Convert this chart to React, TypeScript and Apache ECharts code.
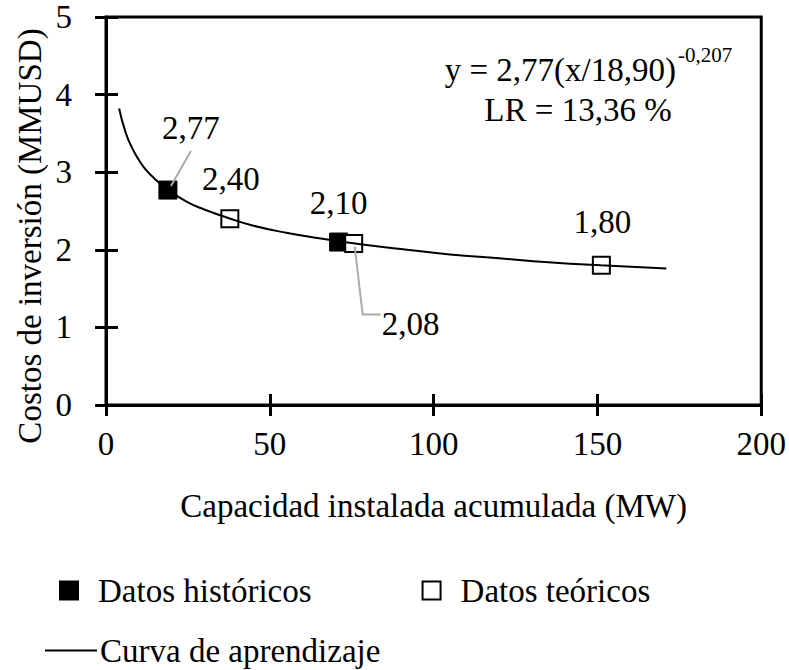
import React, { useEffect, useRef } from "react";
import * as echarts from "echarts";

const histX = [18.9, 71];
const histY = [2.77, 2.1];
const teoX = [37.8, 75.6, 151.2];
const teoY = [2.4, 2.08, 1.8];
const curveX = [4, 6, 8, 10, 12, 15, 19, 25, 30, 38, 45, 55, 65, 76, 90, 105, 120, 135, 151, 171];
const curveY = [3.82, 3.51, 3.31, 3.16, 3.04, 2.91, 2.77, 2.61, 2.52, 2.4, 2.31, 2.22, 2.15, 2.08, 2.01, 1.94, 1.89, 1.84, 1.8, 1.76];
const seriesNames = ["Datos históricos", "Datos teóricos", "Curva de aprendizaje"];
const xTitle = "Capacidad instalada acumulada (MW)";
const yTitle = "Costos de inversión (MMUSD)";
const eqMain = "y = 2,77(x/18,90)";
const eqSup = "-0,207";
const lrText = "LR = 13,36 %";

// label offsets (style)
const histOffsets = [[23, -62], [0, -39]];
const teoOffsets = [[1, -40], [57, 80], [1, -43]];

const FONT = "'Liberation Serif', 'DejaVu Serif', serif";
const FS = 33;

const fmt = (v: number) => v.toFixed(2).replace(".", ",");

export default function App() {
  const ref = useRef<HTMLDivElement>(null);
  useEffect(() => {
    document.body.style.margin = "0";
    const chart = echarts.init(ref.current!, null, { renderer: "svg" });
    const axisCommon = {
      type: "value" as const,
      splitLine: { show: false },
    };
    const labelStyle = { color: "#000", fontSize: FS, fontFamily: FONT };
    const option: any = {
      animation: false,
      backgroundColor: "#fff",
      textStyle: { fontFamily: FONT, color: "#000" },
      grid: {
        left: 106,
        right: 26,
        top: 17,
        bottom: 265,
        show: true,
        borderColor: "#000",
        borderWidth: 3,
        backgroundColor: "transparent",
      },
      xAxis: [
        {
          ...axisCommon,
          min: 0,
          max: 200,
          interval: 50,
          position: "bottom",
          axisLine: { show: true, lineStyle: { color: "#000", width: 3 } },
          axisTick: { show: true, length: 11, lineStyle: { color: "#000", width: 3 } },
          axisLabel: { ...labelStyle, margin: 22 },
          name: xTitle,
          nameLocation: "middle",
          nameGap: 84,
          nameTextStyle: labelStyle,
        },
        {
          ...axisCommon,
          min: 0,
          max: 200,
          interval: 50,
          position: "bottom",
          offset: 0,
          axisLine: { show: false },
          axisTick: { show: true, inside: true, length: 11, lineStyle: { color: "#000", width: 3 } },
          axisLabel: { show: false },
        },
      ],
      yAxis: [
        {
          ...axisCommon,
          min: 0,
          max: 5,
          interval: 1,
          position: "left",
          axisLine: { show: true, lineStyle: { color: "#000", width: 3 } },
          axisTick: { show: true, length: 11, lineStyle: { color: "#000", width: 3 } },
          axisLabel: { ...labelStyle, margin: 34 },
        },
        {
          ...axisCommon,
          min: 0,
          max: 5,
          interval: 1,
          position: "left",
          offset: 0,
          axisLine: { show: false },
          axisTick: { show: true, inside: true, length: 12, lineStyle: { color: "#000", width: 3 } },
          axisLabel: { show: false },
        },
      ],
      legend: [
        {
          data: [seriesNames[0], seriesNames[1]],
          left: 54,
          top: 569,
          itemWidth: 18,
          itemHeight: 18,
          itemGap: 110,
          textStyle: { ...labelStyle, padding: [0, 0, 0, 15] },
        },
        {
          data: [{ name: seriesNames[2], icon: "rect" }],
          left: 40,
          top: 629,
          itemWidth: 52,
          itemHeight: 2,
          textStyle: { ...labelStyle, padding: [0, 0, 0, -2] },
        },
      ],
      series: [
        {
          name: seriesNames[0],
          type: "scatter",
          symbol: "rect",
          symbolSize: 18,
          itemStyle: { color: "#000", borderColor: "#000", borderWidth: 1, opacity: 1 },
          z: 2,
          data: histX.map((x, i) => ({
            value: [x, histY[i]],
            label: {
              show: true,
              position: "inside",
              offset: histOffsets[i],
              formatter: fmt(histY[i]),
              ...labelStyle,
            },
          })),
        },
        {
          name: seriesNames[1],
          type: "scatter",
          symbol: "rect",
          symbolSize: 17,
          itemStyle: { color: "#fff", borderColor: "#000", borderWidth: 2, opacity: 1 },
          z: 3,
          data: teoX.map((x, i) => ({
            value: [x, teoY[i]],
            label: {
              show: true,
              position: "inside",
              offset: teoOffsets[i],
              formatter: fmt(teoY[i]),
              ...labelStyle,
            },
          })),
        },
        {
          name: seriesNames[2],
          type: "line",
          smooth: true,
          symbol: "none",
          showSymbol: false,
          z: 4,
          lineStyle: { color: "#000", width: 2 },
          itemStyle: { color: "#000" },
          data: curveX.map((x, i) => [x, curveY[i]]),
        },
      ],
    };
    chart.setOption(option);

    const p1 = chart.convertToPixel({ gridIndex: 0 }, [histX[0], histY[0]]) as number[];
    const p2 = chart.convertToPixel({ gridIndex: 0 }, [teoX[1], teoY[1]]) as number[];
    const gray = { stroke: "#aaa", lineWidth: 2 };
    chart.setOption({
      graphic: [
        {
          type: "line",
          shape: { x1: p1[0] + 3, y1: p1[1] - 4, x2: p1[0] + 23, y2: p1[1] - 39 },
          style: gray,
          z: 10,
        },
        {
          type: "polyline",
          shape: { points: [[p2[0] + 1, p2[1] + 3], [p2[0] + 9, p2[1] + 71], [p2[0] + 27, p2[1] + 71]] },
          style: { ...gray, fill: null },
          z: 10,
        },
        {
          type: "text",
          x: 30,
          y: 236,
          rotation: Math.PI / 2,
          style: { text: yTitle, font: `${FS}px ${FONT}`, fill: "#000", align: "center", verticalAlign: "middle" },
        },
        {
          type: "text",
          x: 676,
          y: 70,
          style: { text: eqMain, font: `${FS}px ${FONT}`, fill: "#000", align: "right", verticalAlign: "middle" },
        },
        {
          type: "text",
          x: 678,
          y: 55,
          style: { text: eqSup, font: `21px ${FONT}`, fill: "#000", align: "left", verticalAlign: "middle" },
        },
        {
          type: "text",
          x: 578,
          y: 110,
          style: { text: lrText, font: `${FS}px ${FONT}`, fill: "#000", align: "center", verticalAlign: "middle" },
        },
      ],
    });
    return () => chart.dispose();
  }, []);
  return <div ref={ref} style={{ width: 789, height: 670 }} />;
}
